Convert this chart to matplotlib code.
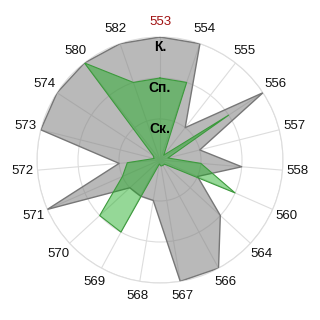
import numpy as np
import matplotlib
matplotlib.use('Agg')
import matplotlib.pyplot as plt

plt.rcParams['font.family'] = ['Liberation Sans', 'DejaVu Sans']

categories = ['553', '554', '555', '556', '557', '558', '560', '564', '566', '567',
              '568', '569', '570', '571', '572', '573', '574', '580', '582']
gray_vals = [3, 3, 1, 3, 1, 2, 1, 2, 3, 3, 1, 1, 1, 3, 1, 3, 3, 3, 3]
green_vals = [2, 2, 0.15, 2, 0.2, 1, 2, 0.15, 0.15, 0.15, 0.1, 2, 2, 1, 0.8, 0.15, 0.2, 3, 2]
level_labels = ['Ск.', 'Сп.', 'К.']
level_vals = [1, 2, 3]

n = len(categories)
theta = np.linspace(0, 2 * np.pi, n, endpoint=False)
theta_c = np.append(theta, theta[0])

fig = plt.figure(figsize=(3.2, 3.2), dpi=100)
ax = fig.add_axes([37 / 320, 37 / 320, 246 / 320, 246 / 320], projection='polar')
ax.set_theta_zero_location('N')
ax.set_theta_direction(-1)

g = np.append(gray_vals, gray_vals[0])
ax.fill(theta_c, g, color='#808080', alpha=0.55, lw=0, zorder=2)
ax.plot(theta_c, g, color='#777777', lw=1.0, zorder=3)

gr = np.append(green_vals, green_vals[0])
ax.fill(theta_c, gr, color='#14aa18', alpha=0.45, lw=0, zorder=4)
ax.plot(theta_c, gr, color='#3c9a3c', lw=0.8, zorder=5)

ax.set_ylim(0, 3)
ax.set_yticks(level_vals)
ax.set_yticklabels([])
ax.set_xticks(theta)
ax.set_xticklabels(categories, fontsize=9.5, color='#111111')
ax.get_xticklabels()[0].set_color('#a01010')
ax.tick_params(axis='x', pad=0.5)
ax.grid(True, color='#dddddd', lw=0.8)
ax.spines['polar'].set_color('#dddddd')
ax.spines['polar'].set_linewidth(0.8)

for lab, v in zip(level_labels, level_vals):
    ax.text(0, v - 0.08, lab, ha='center', va='top', fontsize=10,
            fontweight='bold', color='black', zorder=6)

fig.savefig('out.png', dpi=100)
